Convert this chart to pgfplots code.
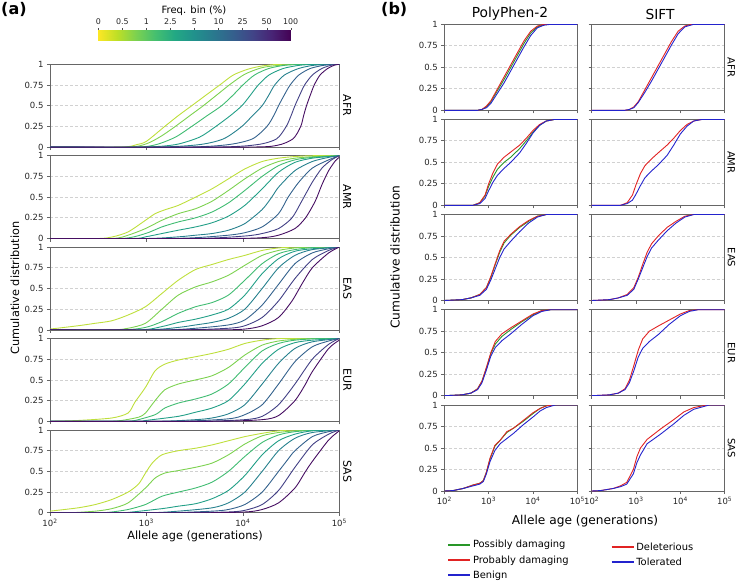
\documentclass[border=0pt]{standalone}
\usepackage{fontspec}
\setmainfont{DejaVu Sans}
\usepackage{pgfplots}
\pgfplotsset{compat=1.18}

% viridis, bin centres (light -> dark)
\definecolor{v1}{RGB}{190,223,60}
\definecolor{v2}{RGB}{125,210,80}
\definecolor{v3}{RGB}{64,188,114}
\definecolor{v4}{RGB}{34,159,135}
\definecolor{v5}{RGB}{39,129,142}
\definecolor{v6}{RGB}{52,98,141}
\definecolor{v7}{RGB}{66,64,133}
\definecolor{v8}{RGB}{70,14,98}
\definecolor{pgreen}{RGB}{40,150,40}
\definecolor{pred}{RGB}{225,35,35}
\definecolor{pblue}{RGB}{35,35,205}

\pgfplotsset{
  panel/.style={scale only axis, xmin=2, xmax=5, ymin=0, ymax=1,
    xtick={2,3,4,5}, xticklabels={},
    ytick={0,0.25,0.5,0.75,1}, yticklabels={0,0.25,0.5,0.75,1},
    ymajorgrids, grid style={dash pattern=on 3pt off 2pt, black!18, line width=0.7pt},
    axis line style={black!60, line width=0.7pt},
    tick style={black!60, line width=0.7pt},
    tick align=outside, major tick length=3pt,
    xtick pos=left, ytick pos=left,
    tick label style={font=\fontsize{8.5}{9}\selectfont, text=black!85},
    anchor=north west},
  lp/.style={panel, width=289.3pt, height=82.8pt,
    every axis plot/.append style={smooth, tension=0.45, line width=0.9pt}},
  rp/.style={panel, width=133pt, height=86pt,
    every axis plot/.append style={line width=0.9pt, line join=round}},
  xlab/.style={xticklabels={10\textsuperscript{2},10\textsuperscript{3},10\textsuperscript{4},10\textsuperscript{5}}},
  leg/.style={legend style={at={#1}, anchor=north west, draw=none, fill=none,
    font=\fontsize{9.9}{11}\selectfont, row sep=2.1pt},
    legend cell align=left,
    legend image code/.code={\draw[##1, line width=1.5pt, line cap=butt] (0pt,0pt) -- (22pt,0pt);}},
  colormap={rvir}{rgb255=(253,231,37) rgb255=(189,223,38) rgb255=(122,209,81)
    rgb255=(68,191,112) rgb255=(34,168,132) rgb255=(33,145,140) rgb255=(42,120,142)
    rgb255=(53,95,141) rgb255=(65,68,135) rgb255=(72,36,117) rgb255=(68,1,84)},
}

\begin{document}
\begin{tikzpicture}
\path[use as bounding box] (0,0) rectangle (739pt,-587pt);

% ---------- colour bar ----------
\begin{axis}[scale only axis, at={(98.3pt,-30pt)}, anchor=north west,
  width=192.4pt, height=10pt, xmin=0, xmax=8, ymin=0, ymax=1,
  xtick={0,...,8}, xticklabels={0,0.5,1,2.5,5,10,25,50,100},
  ytick=\empty, xtick pos=right, tick align=outside, major tick length=2pt,
  tick style={black!70}, axis line style={black!80, line width=0.6pt},
  tick label style={font=\fontsize{7.9}{8}\selectfont, text=black!85},
  point meta min=0, point meta max=8]
\addplot[patch, patch type=rectangle, shader=interp, point meta=x] coordinates {
 (0,0) (1,0) (1,1) (0,1)  (1,0) (2,0) (2,1) (1,1)  (2,0) (3,0) (3,1) (2,1)
 (3,0) (4,0) (4,1) (3,1)  (4,0) (5,0) (5,1) (4,1)  (5,0) (6,0) (6,1) (5,1)
 (6,0) (7,0) (7,1) (6,1)  (7,0) (8,0) (8,1) (7,1)};
\end{axis}
\node[font=\fontsize{10}{10}\selectfont] at (194pt,-11pt) {Freq. bin (\%)};

% ---------- panel (a) ----------
\begin{axis}[lp, at={(50pt,-64.3pt)}]
\addplot[v1] coordinates {(2,0)(2.74,0)(2.9,0.03)(3.0,0.07)(3.19,0.25)(3.33,0.38)(3.47,0.5)(3.62,0.63)(3.76,0.75)(3.9,0.87)(4.05,0.94)(4.2,0.98)(4.4,1)(5,1)};
\addplot[v2] coordinates {(2,0)(2.8,0)(3.0,0.04)(3.15,0.13)(3.3,0.25)(3.45,0.38)(3.59,0.5)(3.73,0.63)(3.87,0.76)(4.02,0.88)(4.2,0.96)(4.4,0.99)(4.6,1)(5,1)};
\addplot[v3] coordinates {(2,0)(2.88,0)(3.1,0.03)(3.3,0.12)(3.47,0.25)(3.63,0.38)(3.78,0.5)(3.9,0.63)(4.0,0.75)(4.12,0.87)(4.27,0.95)(4.45,0.99)(4.7,1)(5,1)};
\addplot[v4] coordinates {(2,0)(2.95,0)(3.3,0.03)(3.55,0.12)(3.72,0.25)(3.87,0.38)(3.99,0.5)(4.08,0.63)(4.16,0.75)(4.27,0.87)(4.42,0.95)(4.6,0.99)(4.8,1)(5,1)};
\addplot[v5] coordinates {(2,0)(3.1,0)(3.55,0.03)(3.8,0.1)(3.99,0.25)(4.1,0.38)(4.2,0.5)(4.27,0.63)(4.33,0.75)(4.43,0.87)(4.58,0.95)(4.75,0.99)(5,1)};
\addplot[v6] coordinates {(2,0)(3.4,0)(3.85,0.03)(4.1,0.1)(4.25,0.25)(4.32,0.38)(4.37,0.5)(4.43,0.63)(4.49,0.75)(4.58,0.87)(4.7,0.95)(4.85,0.99)(5,1)};
\addplot[v7] coordinates {(2,0)(3.7,0)(4.15,0.03)(4.35,0.1)(4.45,0.25)(4.5,0.38)(4.54,0.5)(4.59,0.63)(4.64,0.75)(4.72,0.87)(4.82,0.95)(4.92,0.99)(5,1)};
\addplot[v8] coordinates {(2,0)(4.0,0)(4.35,0.02)(4.52,0.1)(4.6,0.25)(4.63,0.38)(4.66,0.5)(4.7,0.63)(4.74,0.75)(4.8,0.87)(4.88,0.95)(4.95,0.99)(5,1)};
\end{axis}

\begin{axis}[lp, at={(50pt,-155.7pt)}]
\addplot[v1] coordinates {(2,0)(2.5,0)(2.65,0.02)(2.81,0.08)(2.99,0.22)(3.09,0.3)(3.2,0.35)(3.33,0.4)(3.51,0.5)(3.68,0.6)(3.85,0.72)(4.02,0.84)(4.2,0.93)(4.37,0.97)(4.54,0.99)(4.72,1)(5,1)};
\addplot[v2] coordinates {(2,0)(2.64,0)(2.81,0.04)(2.99,0.12)(3.16,0.22)(3.33,0.3)(3.51,0.36)(3.68,0.45)(3.85,0.58)(4.02,0.72)(4.2,0.85)(4.37,0.93)(4.54,0.97)(4.75,0.99)(5,1)};
\addplot[v3] coordinates {(2,0)(2.74,0)(2.99,0.06)(3.16,0.14)(3.33,0.2)(3.51,0.25)(3.68,0.32)(3.85,0.43)(4.02,0.58)(4.2,0.75)(4.37,0.88)(4.54,0.95)(4.72,0.98)(5,1)};
\addplot[v4] coordinates {(2,0)(2.85,0)(2.99,0.02)(3.16,0.06)(3.33,0.1)(3.51,0.14)(3.68,0.19)(3.85,0.27)(4.02,0.4)(4.2,0.6)(4.37,0.8)(4.54,0.92)(4.72,0.97)(4.9,0.99)(5,1)};
\addplot[v5] coordinates {(2,0)(2.99,0)(3.33,0.02)(3.51,0.04)(3.68,0.06)(3.85,0.1)(4.02,0.18)(4.2,0.35)(4.3,0.5)(4.37,0.62)(4.54,0.82)(4.72,0.93)(4.89,0.98)(5,1)};
\addplot[v6] coordinates {(2,0)(3.16,0)(3.51,0.01)(3.85,0.04)(4.02,0.07)(4.2,0.14)(4.37,0.3)(4.47,0.5)(4.58,0.68)(4.72,0.85)(4.89,0.95)(5,1)};
\addplot[v7] coordinates {(2,0)(3.5,0)(4.02,0.03)(4.2,0.06)(4.37,0.12)(4.51,0.25)(4.61,0.45)(4.72,0.68)(4.82,0.85)(4.92,0.95)(5,1)};
\addplot[v8] coordinates {(2,0)(3.8,0)(4.2,0.01)(4.37,0.04)(4.54,0.12)(4.65,0.25)(4.75,0.45)(4.82,0.65)(4.89,0.82)(4.96,0.94)(5,0.98)};
\end{axis}

\begin{axis}[lp, at={(50pt,-247.1pt)}]
\addplot[v1] coordinates {(2,0.01)(2.29,0.05)(2.47,0.08)(2.64,0.11)(2.81,0.18)(2.99,0.28)(3.16,0.44)(3.33,0.6)(3.51,0.73)(3.68,0.79)(3.85,0.85)(4.02,0.9)(4.2,0.96)(4.37,0.99)(4.55,1)(5,1)};
\addplot[v2] coordinates {(2,0)(2.64,0)(2.81,0.02)(2.99,0.08)(3.16,0.25)(3.33,0.42)(3.51,0.52)(3.68,0.58)(3.85,0.66)(4.02,0.78)(4.2,0.9)(4.37,0.96)(4.54,0.99)(4.72,1)(5,1)};
\addplot[v3] coordinates {(2,0)(2.74,0)(2.99,0.03)(3.16,0.1)(3.33,0.2)(3.51,0.28)(3.68,0.33)(3.85,0.42)(4.02,0.6)(4.2,0.8)(4.37,0.92)(4.54,0.97)(4.78,1)(5,1)};
\addplot[v4] coordinates {(2,0)(2.92,0)(3.16,0.04)(3.33,0.09)(3.51,0.13)(3.68,0.18)(3.85,0.25)(4.02,0.42)(4.2,0.68)(4.37,0.86)(4.54,0.95)(4.72,0.98)(5,1)};
\addplot[v5] coordinates {(2,0)(2.99,0)(3.33,0.03)(3.51,0.06)(3.68,0.09)(3.85,0.14)(4.02,0.25)(4.2,0.5)(4.37,0.75)(4.54,0.9)(4.72,0.97)(5,1)};
\addplot[v6] coordinates {(2,0)(3.16,0)(3.51,0.02)(3.85,0.06)(4.02,0.12)(4.2,0.3)(4.37,0.55)(4.54,0.8)(4.72,0.93)(4.89,0.98)(5,1)};
\addplot[v7] coordinates {(2,0)(3.33,0)(3.85,0.02)(4.02,0.05)(4.2,0.15)(4.37,0.35)(4.54,0.62)(4.72,0.85)(4.89,0.96)(5,1)};
\addplot[v8] coordinates {(2,0)(3.68,0)(4.02,0.01)(4.2,0.05)(4.37,0.15)(4.51,0.35)(4.61,0.55)(4.72,0.75)(4.89,0.93)(5,1)};
\end{axis}

\begin{axis}[lp, at={(50pt,-338.5pt)}]
\addplot[v1] coordinates {(2,0)(2.29,0.01)(2.64,0.04)(2.81,0.1)(2.88,0.23)(2.99,0.41)(3.09,0.61)(3.19,0.69)(3.33,0.74)(3.51,0.78)(3.68,0.82)(3.85,0.87)(4.02,0.94)(4.2,0.98)(4.4,1)(5,1)};
\addplot[v2] coordinates {(2,0)(2.6,0)(2.74,0.01)(2.92,0.05)(2.99,0.1)(3.09,0.25)(3.19,0.38)(3.33,0.45)(3.51,0.5)(3.68,0.55)(3.85,0.65)(4.02,0.8)(4.2,0.92)(4.37,0.97)(4.54,0.99)(4.72,1)(5,1)};
\addplot[v3] coordinates {(2,0)(2.75,0)(2.88,0.01)(3.09,0.08)(3.19,0.16)(3.33,0.22)(3.51,0.27)(3.68,0.33)(3.85,0.45)(4.02,0.65)(4.2,0.85)(4.37,0.94)(4.54,0.98)(4.8,1)(5,1)};
\addplot[v4] coordinates {(2,0)(2.9,0)(2.99,0.01)(3.33,0.06)(3.51,0.11)(3.68,0.16)(3.85,0.25)(4.02,0.45)(4.2,0.7)(4.37,0.87)(4.54,0.95)(4.72,0.98)(5,1)};
\addplot[v5] coordinates {(2,0)(3.1,0)(3.51,0.02)(3.68,0.04)(3.85,0.09)(4.02,0.2)(4.2,0.45)(4.37,0.7)(4.54,0.88)(4.72,0.96)(5,1)};
\addplot[v6] coordinates {(2,0)(3.3,0)(3.85,0.03)(4.02,0.08)(4.2,0.2)(4.37,0.45)(4.54,0.72)(4.72,0.9)(4.89,0.97)(5,1)};
\addplot[v7] coordinates {(2,0)(3.5,0)(4.02,0.02)(4.2,0.06)(4.37,0.2)(4.54,0.45)(4.72,0.75)(4.89,0.93)(5,1)};
\addplot[v8] coordinates {(2,0)(3.68,0)(4.2,0.02)(4.37,0.07)(4.54,0.25)(4.65,0.45)(4.72,0.6)(4.89,0.88)(5,0.98)};
\end{axis}

\begin{axis}[lp, xlab, at={(50pt,-430pt)}]
\addplot[v1] coordinates {(2,0.02)(2.29,0.06)(2.47,0.1)(2.64,0.16)(2.81,0.25)(2.92,0.35)(2.99,0.48)(3.06,0.6)(3.16,0.7)(3.33,0.75)(3.51,0.78)(3.68,0.82)(3.85,0.87)(4.02,0.92)(4.2,0.96)(4.37,0.99)(4.55,1)(5,1)};
\addplot[v2] coordinates {(2,0)(2.2,0)(2.47,0.02)(2.64,0.05)(2.81,0.12)(2.99,0.3)(3.09,0.42)(3.19,0.48)(3.33,0.51)(3.51,0.55)(3.68,0.6)(3.85,0.7)(4.02,0.83)(4.2,0.93)(4.37,0.97)(4.54,0.99)(4.72,1)(5,1)};
\addplot[v3] coordinates {(2,0)(2.5,0)(2.64,0.01)(2.81,0.04)(2.99,0.1)(3.16,0.2)(3.33,0.25)(3.51,0.3)(3.68,0.37)(3.85,0.5)(4.02,0.68)(4.2,0.85)(4.37,0.94)(4.54,0.98)(4.8,1)(5,1)};
\addplot[v4] coordinates {(2,0)(2.7,0)(2.81,0.005)(3.16,0.05)(3.33,0.08)(3.51,0.11)(3.68,0.17)(3.85,0.27)(4.02,0.45)(4.2,0.7)(4.37,0.87)(4.54,0.95)(4.72,0.99)(5,1)};
\addplot[v5] coordinates {(2,0)(2.99,0)(3.33,0.02)(3.68,0.06)(3.85,0.12)(4.02,0.25)(4.2,0.5)(4.37,0.75)(4.54,0.9)(4.72,0.97)(5,1)};
\addplot[v6] coordinates {(2,0)(3.16,0)(3.68,0.02)(3.85,0.04)(4.02,0.1)(4.2,0.25)(4.37,0.5)(4.47,0.65)(4.54,0.75)(4.72,0.92)(4.89,0.98)(5,1)};
\addplot[v7] coordinates {(2,0)(3.33,0)(3.85,0.01)(4.02,0.03)(4.2,0.1)(4.37,0.27)(4.54,0.55)(4.72,0.82)(4.89,0.95)(5,1)};
\addplot[v8] coordinates {(2,0)(3.5,0)(4.02,0.01)(4.2,0.04)(4.37,0.12)(4.54,0.3)(4.65,0.5)(4.72,0.62)(4.89,0.88)(5,0.99)};
\end{axis}

\begin{scope}[font=\fontsize{11}{11}\selectfont]
\node[rotate=-90, anchor=south, inner sep=1pt] at (342pt,-105.7pt) {AFR};
\node[rotate=-90, anchor=south, inner sep=1pt] at (342pt,-197.1pt) {AMR};
\node[rotate=-90, anchor=south, inner sep=1pt] at (342pt,-288.5pt) {EAS};
\node[rotate=-90, anchor=south, inner sep=1pt] at (342pt,-380pt) {EUR};
\node[rotate=-90, anchor=south, inner sep=1pt] at (342pt,-471.4pt) {SAS};
\end{scope}
\node[rotate=90, font=\fontsize{11.3}{12}\selectfont] at (15pt,-288pt) {Cumulative distribution};
\node[font=\fontsize{11.3}{12}\selectfont] at (195pt,-536pt) {Allele age (generations)};
\node[anchor=north west, inner sep=0pt, font=\fontsize{16}{16}\selectfont\bfseries] at (1pt,-2pt) {(a)};

% ---------- panel (b) ----------
\begin{axis}[rp, at={(444.3pt,-24.3pt)}]
\addplot[pgreen] coordinates {(2,0)(2.75,0)(2.85,0.01)(2.95,0.04)(3.05,0.1)(3.2,0.23)(3.35,0.36)(3.5,0.5)(3.65,0.64)(3.8,0.78)(3.95,0.9)(4.1,0.97)(4.25,0.995)(4.4,1)(5,1)};
\addplot[pred] coordinates {(2,0)(2.75,0)(2.85,0.01)(2.95,0.05)(3.05,0.11)(3.2,0.25)(3.35,0.39)(3.5,0.53)(3.65,0.67)(3.8,0.81)(3.95,0.92)(4.1,0.98)(4.25,1)(5,1)};
\addplot[pblue] coordinates {(2,0)(2.75,0)(2.85,0.01)(2.95,0.03)(3.05,0.08)(3.2,0.2)(3.35,0.32)(3.5,0.46)(3.65,0.6)(3.8,0.74)(3.95,0.87)(4.1,0.96)(4.25,0.99)(4.4,1)(5,1)};
\end{axis}
\begin{axis}[rp, yticklabels={}, at={(591.7pt,-24.3pt)}]
\addplot[pred] coordinates {(2,0)(2.75,0)(2.85,0.01)(2.95,0.04)(3.05,0.1)(3.2,0.24)(3.35,0.38)(3.5,0.52)(3.65,0.66)(3.8,0.8)(3.95,0.92)(4.1,0.98)(4.25,1)(5,1)};
\addplot[pblue] coordinates {(2,0)(2.75,0)(2.85,0.01)(2.95,0.03)(3.05,0.09)(3.2,0.21)(3.35,0.34)(3.5,0.48)(3.65,0.62)(3.8,0.76)(3.95,0.89)(4.1,0.97)(4.3,1)(5,1)};
\end{axis}

\begin{axis}[rp, at={(444.3pt,-119.3pt)}]
\addplot[pgreen] coordinates {(2,0)(2.65,0)(2.8,0.03)(2.92,0.11)(3.0,0.22)(3.1,0.33)(3.2,0.42)(3.35,0.5)(3.5,0.56)(3.7,0.66)(3.85,0.75)(4.0,0.85)(4.15,0.93)(4.3,0.98)(4.5,1)(5,1)};
\addplot[pred] coordinates {(2,0)(2.65,0)(2.8,0.03)(2.92,0.12)(3.0,0.25)(3.1,0.38)(3.2,0.48)(3.35,0.56)(3.5,0.62)(3.7,0.7)(3.85,0.78)(4.0,0.87)(4.15,0.94)(4.3,0.98)(4.5,1)(5,1)};
\addplot[pblue] coordinates {(2,0)(2.65,0)(2.8,0.02)(2.92,0.08)(3.0,0.17)(3.1,0.27)(3.2,0.35)(3.35,0.43)(3.5,0.5)(3.7,0.61)(3.85,0.72)(4.0,0.84)(4.15,0.93)(4.3,0.98)(4.5,1)(5,1)};
\end{axis}
\begin{axis}[rp, yticklabels={}, at={(591.7pt,-119.3pt)}]
\addplot[pred] coordinates {(2,0)(2.65,0)(2.8,0.03)(2.92,0.12)(3.0,0.24)(3.1,0.37)(3.2,0.46)(3.35,0.54)(3.5,0.61)(3.7,0.7)(3.85,0.78)(4.0,0.87)(4.15,0.94)(4.3,0.98)(4.5,1)(5,1)};
\addplot[pblue] coordinates {(2,0)(2.65,0)(2.8,0.02)(2.92,0.06)(3.0,0.13)(3.1,0.23)(3.2,0.32)(3.35,0.4)(3.5,0.47)(3.7,0.58)(3.85,0.7)(4.0,0.83)(4.15,0.92)(4.3,0.98)(4.5,1)(5,1)};
\end{axis}

\begin{axis}[rp, at={(444.3pt,-214.5pt)}]
\addplot[pgreen] coordinates {(2,0)(2.4,0.01)(2.6,0.03)(2.8,0.07)(2.95,0.15)(3.05,0.27)(3.15,0.42)(3.25,0.56)(3.35,0.67)(3.5,0.76)(3.7,0.85)(3.9,0.92)(4.1,0.98)(4.3,1)(5,1)};
\addplot[pred] coordinates {(2,0)(2.4,0.01)(2.6,0.03)(2.8,0.07)(2.95,0.15)(3.05,0.28)(3.15,0.43)(3.25,0.58)(3.35,0.69)(3.5,0.77)(3.7,0.86)(3.9,0.93)(4.1,0.98)(4.3,1)(5,1)};
\addplot[pblue] coordinates {(2,0)(2.4,0.01)(2.6,0.03)(2.8,0.06)(2.95,0.13)(3.05,0.24)(3.15,0.37)(3.25,0.5)(3.35,0.6)(3.5,0.69)(3.7,0.8)(3.9,0.9)(4.1,0.97)(4.3,1)(5,1)};
\end{axis}
\begin{axis}[rp, yticklabels={}, at={(591.7pt,-214.5pt)}]
\addplot[pred] coordinates {(2,0)(2.4,0.01)(2.6,0.03)(2.8,0.07)(2.95,0.15)(3.05,0.27)(3.15,0.42)(3.25,0.56)(3.35,0.66)(3.5,0.75)(3.7,0.85)(3.9,0.92)(4.1,0.98)(4.3,1)(5,1)};
\addplot[pblue] coordinates {(2,0)(2.4,0.01)(2.6,0.03)(2.8,0.06)(2.95,0.13)(3.05,0.25)(3.15,0.38)(3.25,0.51)(3.35,0.61)(3.5,0.7)(3.7,0.81)(3.9,0.9)(4.1,0.97)(4.3,1)(5,1)};
\end{axis}

\begin{axis}[rp, at={(444.3pt,-309.7pt)}]
\addplot[pgreen] coordinates {(2,0)(2.4,0.01)(2.6,0.03)(2.75,0.08)(2.85,0.17)(2.95,0.32)(3.05,0.49)(3.15,0.6)(3.3,0.69)(3.5,0.77)(3.75,0.86)(4.0,0.94)(4.2,0.99)(4.4,1)(5,1)};
\addplot[pred] coordinates {(2,0)(2.4,0.01)(2.6,0.03)(2.75,0.08)(2.85,0.17)(2.95,0.33)(3.05,0.5)(3.15,0.63)(3.3,0.72)(3.5,0.79)(3.75,0.87)(4.0,0.95)(4.2,0.99)(4.4,1)(5,1)};
\addplot[pblue] coordinates {(2,0)(2.4,0.01)(2.6,0.03)(2.75,0.07)(2.85,0.15)(2.95,0.3)(3.05,0.46)(3.15,0.56)(3.3,0.64)(3.5,0.72)(3.75,0.83)(4.0,0.93)(4.2,0.98)(4.4,1)(5,1)};
\end{axis}
\begin{axis}[rp, yticklabels={}, at={(591.7pt,-309.7pt)}]
\addplot[pred] coordinates {(2,0)(2.4,0.01)(2.6,0.03)(2.75,0.08)(2.85,0.18)(2.95,0.35)(3.05,0.53)(3.15,0.66)(3.3,0.75)(3.5,0.81)(3.75,0.88)(4.0,0.95)(4.2,0.99)(4.4,1)(5,1)};
\addplot[pblue] coordinates {(2,0)(2.4,0.01)(2.6,0.03)(2.75,0.07)(2.85,0.15)(2.95,0.29)(3.05,0.45)(3.15,0.55)(3.3,0.63)(3.5,0.71)(3.75,0.83)(4.0,0.93)(4.2,0.98)(4.4,1)(5,1)};
\end{axis}

\begin{axis}[rp, xlab, at={(444.3pt,-405pt)}, leg={(0,-0.525)}]
\addplot[pgreen] coordinates {(2,0)(2.2,0.005)(2.43,0.03)(2.65,0.07)(2.8,0.09)(2.88,0.12)(2.95,0.22)(3.03,0.37)(3.14,0.52)(3.26,0.59)(3.41,0.68)(3.56,0.73)(3.78,0.81)(4.0,0.9)(4.16,0.96)(4.3,0.99)(4.46,1)(5,1)};
\addlegendentry{Possibly damaging}
\addplot[pred] coordinates {(2,0)(2.2,0.005)(2.43,0.03)(2.65,0.07)(2.8,0.09)(2.88,0.12)(2.95,0.22)(3.03,0.38)(3.14,0.53)(3.26,0.59)(3.41,0.69)(3.56,0.73)(3.78,0.82)(4.0,0.91)(4.16,0.96)(4.3,0.99)(4.46,1)(5,1)};
\addlegendentry{Probably damaging}
\addplot[pblue] coordinates {(2,0)(2.2,0.005)(2.43,0.03)(2.65,0.06)(2.8,0.08)(2.88,0.11)(2.95,0.2)(3.03,0.34)(3.14,0.47)(3.26,0.55)(3.41,0.61)(3.56,0.67)(3.78,0.77)(4.0,0.86)(4.16,0.93)(4.3,0.97)(4.5,1)(5,1)};
\addlegendentry{Benign}
\end{axis}
\begin{axis}[rp, xlab, yticklabels={}, at={(591.7pt,-405pt)}, leg={(0.12,-0.55)}]
\addplot[pred] coordinates {(2,0)(2.2,0.005)(2.49,0.03)(2.65,0.06)(2.79,0.1)(2.94,0.25)(3.02,0.4)(3.1,0.5)(3.25,0.6)(3.55,0.72)(3.85,0.83)(4.08,0.92)(4.3,0.97)(4.6,1)(5,1)};
\addlegendentry{Deleterious}
\addplot[pblue] coordinates {(2,0)(2.2,0.005)(2.49,0.03)(2.65,0.05)(2.79,0.08)(2.94,0.2)(3.02,0.33)(3.1,0.42)(3.25,0.55)(3.55,0.66)(3.85,0.78)(4.08,0.88)(4.3,0.95)(4.65,1)(5,1)};
\addlegendentry{Tolerated}
\end{axis}

\begin{scope}[font=\fontsize{10}{10}\selectfont]
\node[rotate=-90, anchor=south, inner sep=1pt] at (726.5pt,-67.3pt) {AFR};
\node[rotate=-90, anchor=south, inner sep=1pt] at (726.5pt,-162.3pt) {AMR};
\node[rotate=-90, anchor=south, inner sep=1pt] at (726.5pt,-257.5pt) {EAS};
\node[rotate=-90, anchor=south, inner sep=1pt] at (726.5pt,-352.7pt) {EUR};
\node[rotate=-90, anchor=south, inner sep=1pt] at (726.5pt,-448pt) {SAS};
\end{scope}
\node[font=\fontsize{13.8}{14}\selectfont] at (510pt,-14pt) {PolyPhen-2};
\node[font=\fontsize{13.8}{14}\selectfont] at (660pt,-14pt) {SIFT};
\node[rotate=90, font=\fontsize{12.2}{13}\selectfont] at (395pt,-257pt) {Cumulative distribution};
\node[font=\fontsize{12.2}{13}\selectfont] at (585pt,-521pt) {Allele age (generations)};
\node[anchor=north west, inner sep=0pt, font=\fontsize{16}{16}\selectfont\bfseries] at (381pt,-2pt) {(b)};
\end{tikzpicture}
\end{document}
